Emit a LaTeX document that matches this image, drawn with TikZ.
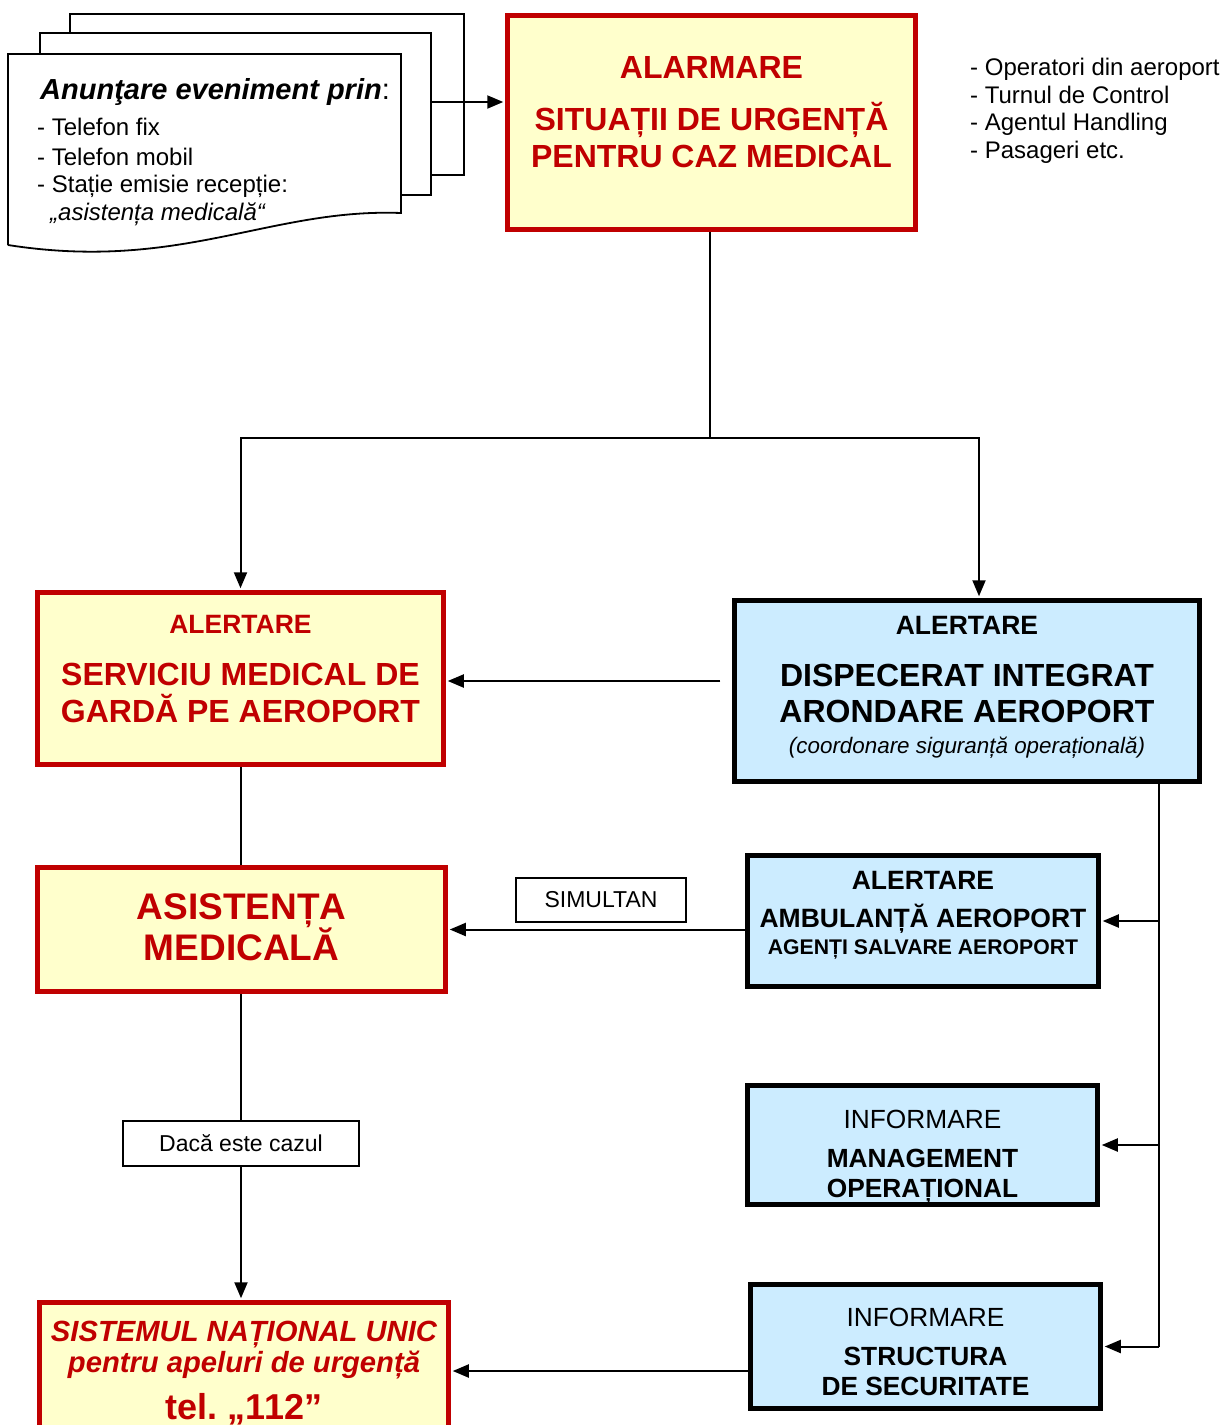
\documentclass[tikz,border=0pt]{standalone}
\usepackage{fontspec}
\setmainfont{Liberation Sans}
\usetikzlibrary{arrows.meta}
\definecolor{alarmred}{HTML}{C00000}
\definecolor{paleyellow}{HTML}{FFFFCC}
\definecolor{paleblue}{HTML}{CCECFF}
\newcommand{\setfs}[2]{\fontsize{#1}{#2}\selectfont}
\tikzset{
  redbox/.style={rectangle, draw=alarmred, line width=4.5pt, fill=paleyellow},
  bluebox/.style={rectangle, draw=black, line width=4.5pt, fill=paleblue},
  boxtext/.style={align=center, inner sep=0pt, anchor=north},
  tagbox/.style={rectangle, draw, line width=1.8pt, fill=white, font=\setfs{23}{26}},
  sheet/.style={draw, line width=1.8pt, fill=white},
  link/.style={line width=2pt},
  arr/.style={link, shorten >=2pt, -{Triangle[length=16pt,width=13pt]}},
}
\begin{document}
\begin{tikzpicture}[x=1pt, y=-1pt]
    \useasboundingbox (0,0) rectangle (1224,1425);
    % stack of sheets
    \draw[sheet] (70,175) -- (70,14) -- (464,14) -- (464,175) -- cycle;
    \draw[sheet] (40,195) -- (40,33) -- (431,33) -- (431,195) -- cycle;
    \draw[sheet] (8,245) -- (8,54) -- (401,54) -- (401,213) .. controls (270,208) and (180,272) .. (8,245);
    \coordinate (stackR) at (431,102);
    \node[anchor=north west, align=left, inner sep=0pt, font=\setfs{24}{30}] (anunt) at (37,78.5)
        {\hspace{3pt}{\setfs{29}{30}{\bfseries\itshape Anunţare eveniment prin}:}\\[6pt]
         - Telefon fix\\ - Telefon mobil\\[-3pt] - Stație emisie recepție:\\[-2.5pt]
         \hspace{13pt}{\itshape „asistența medicală“}};
    \node[anchor=north west, align=left, inner sep=0pt, font=\setfs{24}{27.7}] (surse) at (970,58)
        {- Operatori din aeroport\\ - Turnul de Control\\ - Agentul Handling\\ - Pasageri etc.};

    % boxes
    \node[redbox, minimum width=408pt, minimum height=214pt] (alarm) at (711.5,122.5) {};
    \node[redbox, minimum width=406pt, minimum height=172pt] (serv) at (240.5,678.5) {};
    \node[bluebox, minimum width=465pt, minimum height=181pt] (disp) at (967,691) {};
    \node[redbox, minimum width=408pt, minimum height=124pt] (asist) at (241.5,929.5) {};
    \node[bluebox, minimum width=351pt, minimum height=131pt] (amb) at (923,921) {};
    \node[bluebox, minimum width=350pt, minimum height=119pt] (mgmt) at (922.5,1145) {};
    \node[bluebox, minimum width=350pt, minimum height=124pt] (secur) at (925.5,1346.5) {};
    \node[redbox, minimum width=409pt, minimum height=160pt] (sist) at (244,1382.5) {};
    \node[tagbox, minimum width=170pt, minimum height=44pt] (simultan) at (601,900) {SIMULTAN};
    \node[tagbox, minimum width=236pt, minimum height=45pt] (daca) at (241,1143.5) {Dacă este cazul};

    % box texts
    \node[boxtext, text=alarmred, font={\bfseries\setfs{32}{37}}] (alarmtxt) at (711.5,56.5)
        {ALARMARE\\[15pt]SITUAȚII DE URGENȚĂ\\PENTRU CAZ MEDICAL};
    \node[boxtext, text=alarmred, font={\bfseries\setfs{32}{37}}] (servtxt) at (240.5,615.5)
        {{\setfs{26.5}{30}ALERTARE}\\[15pt]SERVICIU MEDICAL DE\\GARDĂ PE AEROPORT};
    \node[boxtext, font={\bfseries\setfs{32}{36}}] (disptxt) at (967,616.5)
        {{\setfs{26.5}{30}ALERTARE}\\[16pt]DISPECERAT INTEGRAT\\ARONDARE AEROPORT\\[-5.5pt]
         {\mdseries\itshape\setfs{22.4}{26}(coordonare siguranță operațională)}};
    \node[boxtext, text=alarmred, font={\bfseries\setfs{37}{41}}] (asisttxt) at (241.5,893.7)
        {ASISTENȚA\\MEDICALĂ};
    \node[boxtext, font={\bfseries\setfs{26.5}{38}}] (ambtxt) at (923,871.5)
        {ALERTARE\\AMBULANȚĂ AEROPORT\\[-11pt]{\setfs{21.2}{24}AGENȚI SALVARE AEROPORT}};
    \node[boxtext, font={\bfseries\setfs{26.3}{30}}] (mgmttxt) at (922.5,1109.6)
        {{\mdseries INFORMARE}\\[9pt]MANAGEMENT\\OPERAȚIONAL};
    \node[boxtext, font={\bfseries\setfs{26.3}{30}}] (securtxt) at (925.5,1307.6)
        {{\mdseries INFORMARE}\\[9pt]STRUCTURA\\DE SECURITATE};
    \node[boxtext, text=alarmred, font={\bfseries\itshape\setfs{29.2}{31.5}}] (sisttxt) at (244,1320.6)
        {SISTEMUL NAȚIONAL UNIC\\pentru apeluri de urgență\\[13pt]{\upshape\setfs{36}{40}tel.~„112”}};

    % connectors
    \coordinate (split) at (710,438);
    \coordinate (bus) at (1159,0);
    \draw[arr] (stackR) -- (alarm.west |- stackR);
    \draw[link] (alarm.south -| split) -- (split);
    \draw[arr] (split) -| (serv.north);
    \draw[arr] (split) -| ([xshift=12pt]disp.north);
    \draw[arr, shorten <=12pt] ([yshift=-2.5pt]disp.west |- serv.east) -- ([yshift=-2.5pt]serv.east);
    \draw[link] (serv.south) -- (serv.south |- asist.north);
    \draw[arr] (amb.west |- asist.east) -- (asist.east);
    \draw[link] (asist.south -| daca.north) -- (daca.north);
    \draw[arr] (daca.south) -- (daca.south |- sist.north);
    \draw[link] (disp.south -| bus) -- (secur.east -| bus);
    \draw[arr] (amb.east -| bus) -- (amb.east);
    \draw[arr] (mgmt.east -| bus) -- (mgmt.east);
    \draw[arr] (secur.east -| bus) -- (secur.east);
    \draw[arr] ([yshift=-24.5pt]secur.west) -- ([yshift=-24.5pt]secur.west -| sist.east);
\end{tikzpicture}
\end{document}
